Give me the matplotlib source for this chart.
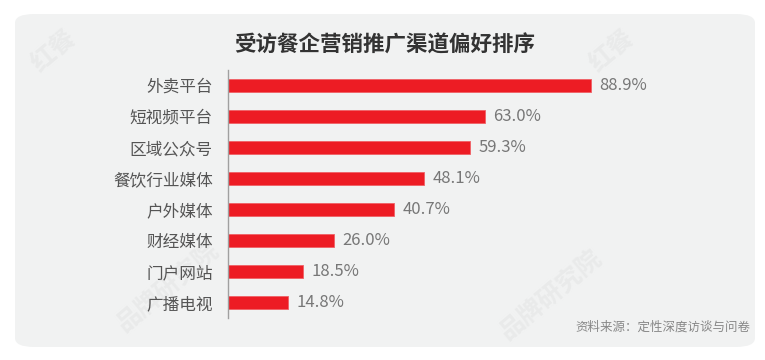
import matplotlib.pyplot as plt
from matplotlib.patches import FancyBboxPatch

plt.rcParams['font.family'] = ['Noto Sans CJK SC', 'DejaVu Sans']

channels = ['外卖平台', '短视频平台', '区域公众号', '餐饮行业媒体', '户外媒体', '财经媒体', '门户网站', '广播电视']
shares = [88.9, 63.0, 59.3, 48.1, 40.7, 26.0, 18.5, 14.8]

fig = plt.figure(figsize=(7.65, 3.6), dpi=100)
fig.patch.set_facecolor('white')

# rounded grey panel
panel = FancyBboxPatch((15 / 765, 13 / 360), 740 / 765, 333 / 360,
                       boxstyle='round,pad=0,rounding_size=0.025',
                       transform=fig.transFigure, facecolor='#f1f2f2',
                       edgecolor='none', zorder=0)
fig.patches.append(panel)

# faint watermarks
for x, y, s in [(0.07, 0.86, '红餐'), (0.8, 0.86, '红餐'), (0.22, 0.2, '品牌研究院'),
                (0.72, 0.18, '品牌研究院')]:
    fig.text(x, y, s, fontsize=18, color='#e9eaea', rotation=40,
             ha='center', va='center', fontweight='bold', zorder=0.5)

ax = fig.add_axes([228 / 765, 1 - 318 / 360, 408 / 765, 248 / 360], zorder=2)
ax.set_facecolor('none')
ypos = list(range(len(channels)))
bars = ax.barh(ypos, shares, height=0.4, color='#ed1c24', edgecolor='#f06066', linewidth=0.6)
ax.set_xlim(0, 100)
ax.set_ylim(len(channels) - 0.5, -0.5)
ax.set_yticks(ypos)
ax.set_yticklabels(channels, fontsize=12, color='#555555')
ax.tick_params(axis='y', length=0, pad=11)
ax.set_xticks([])
for side in ['top', 'right', 'bottom']:
    ax.spines[side].set_visible(False)
ax.spines['left'].set_color('#a0a0a0')
ax.spines['left'].set_linewidth(1.0)

for b, v in zip(bars, shares):
    ax.text(v + 2, b.get_y() + b.get_height() / 2, f'{v:.1f}%', va='center',
            ha='left', fontsize=12, color='#777777')

fig.text(0.503, 1 - 45 / 360, '受访餐企营销推广渠道偏好排序', ha='center', va='center',
         fontsize=15.5, fontweight='bold', color='#333333', zorder=3)
fig.text(750 / 765, 1 - 327 / 360, '资料来源：定性深度访谈与问卷', ha='right', va='center',
         fontsize=9, color='#888888', zorder=3)

fig.savefig('out.png', dpi=100)
